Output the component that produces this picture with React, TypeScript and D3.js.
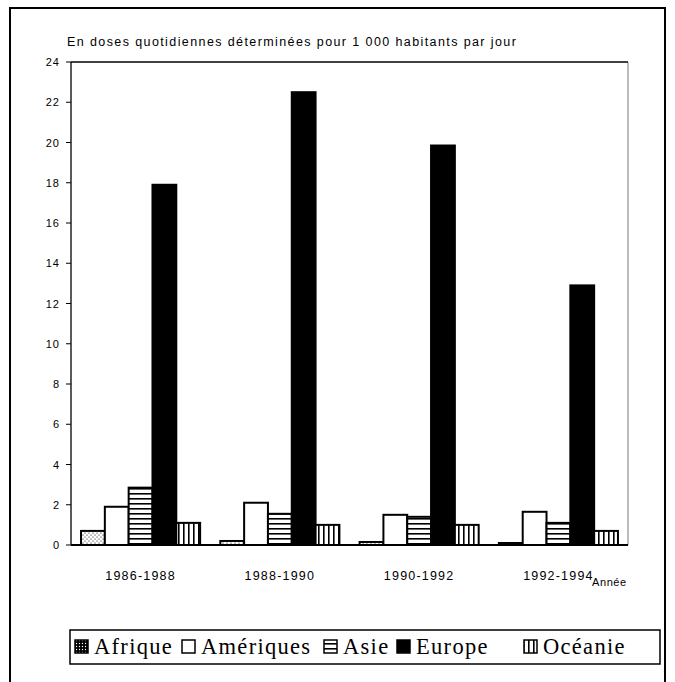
import React from "react";
import * as d3 from "d3";

const periods = ["1986-1988", "1988-1990", "1990-1992", "1992-1994"];
const regions = ["Afrique", "Amériques", "Asie", "Europe", "Océanie"];
const afrique = [0.7, 0.2, 0.15, 0.1];
const ameriques = [1.9, 2.1, 1.5, 1.65];
const asie = [2.85, 1.55, 1.4, 1.1];
const europe = [17.9, 22.5, 19.85, 12.9];
const oceanie = [1.1, 1.0, 1.0, 0.7];
const yTicks = [0, 2, 4, 6, 8, 10, 12, 14, 16, 18, 20, 22, 24];
const title = "En doses quotidiennes déterminées  pour 1 000 habitants par jour";
const xAxisName = "Année";

const series = [afrique, ameriques, asie, europe, oceanie];
const fills = ["url(#dots)", "#fff", "url(#hlines)", "#000", "url(#vlines)"];

export default function App() {
  const W = 675, H = 682;
  const left = 71, right = 628, top = 62, bottom = 545;
  const x0 = d3.scaleBand<string>().domain(periods).range([left, right]).paddingInner(0.145).paddingOuter(0.072);
  const x1 = d3.scaleBand<string>().domain(regions).range([0, x0.bandwidth()]);
  const y = d3.scaleLinear().domain([0, 24]).range([bottom, top]);
  const sans = "Liberation Sans, Arial, sans-serif";
  const serif = "Liberation Serif, Times New Roman, serif";

  const legendX = [75, 182, 324, 397, 524];

  return (
    <svg width={W} height={H} style={{ position: "absolute", left: 0, top: 0, background: "#fff" }}>
      <defs>
        <pattern id="dots" width="4" height="4" patternUnits="userSpaceOnUse">
          <rect width="4" height="4" fill="#fff" />
          <circle cx="1" cy="1" r="0.6" fill="#000" />
          <circle cx="3" cy="3" r="0.6" fill="#000" />
        </pattern>
        <pattern id="hlines" width="4" height="5" patternUnits="userSpaceOnUse">
          <rect width="4" height="5" fill="#fff" />
          <rect y="3" width="4" height="1.6" fill="#000" />
        </pattern>
        <pattern id="vlines" width="5" height="4" patternUnits="userSpaceOnUse">
          <rect width="5" height="4" fill="#fff" />
          <rect x="3" width="1.6" height="4" fill="#000" />
        </pattern>
        <pattern id="ldots" width="3" height="3" patternUnits="userSpaceOnUse">
          <rect width="3" height="3" fill="#000" />
          <circle cx="1.5" cy="1.5" r="0.7" fill="#fff" />
        </pattern>
      </defs>
      {/* outer frame */}
      <rect x={10} y={8} width={655} height={700} fill="none" stroke="#000" strokeWidth={2} />
      {/* title */}
      <text x={67} y={46} fontFamily={sans} fontSize={12.5} letterSpacing={1.4} fill="#000">{title}</text>
      {/* plot box */}
      <line x1={left} x2={right} y1={top} y2={top} stroke="#000" strokeWidth={1.5} />
      <line x1={right} x2={right} y1={top} y2={bottom} stroke="#555" strokeWidth={0.8} />
      <line x1={left} x2={left} y1={top} y2={bottom} stroke="#000" strokeWidth={1.3} />
      {yTicks.map((t) => (
        <g key={t}>
          <line x1={left - 5} x2={left} y1={y(t)} y2={y(t)} stroke="#000" strokeWidth={1} />
          <text x={left - 11} y={y(t) + 4} textAnchor="end" fontFamily={sans} fontSize={11} letterSpacing={1} fill="#000">{t}</text>
        </g>
      ))}
      {periods.map((p, i) => (
        <g key={p}>
          {series.map((s, j) => (
            <rect
              key={j}
              x={(x0(p) as number) + (x1(regions[j]) as number)}
              y={y(s[i])}
              width={x1.bandwidth()}
              height={bottom - y(s[i])}
              fill={fills[j]}
              stroke="#000"
              strokeWidth={2}
            />
          ))}
          <text x={(x0(p) as number) + x0.bandwidth() / 2} y={580} textAnchor="middle" fontFamily={sans} fontSize={12.5} letterSpacing={1.2} fill="#000">{p}</text>
        </g>
      ))}
      <line x1={left} x2={right} y1={bottom} y2={bottom} stroke="#000" strokeWidth={2} />
      <text x={592} y={586} fontFamily={sans} fontSize={11} letterSpacing={0.6} fill="#000">{xAxisName}</text>
      {/* legend */}
      <rect x={70} y={630} width={590} height={34} fill="#fff" stroke="#000" strokeWidth={1.5} />
      {regions.map((r, j) => (
        <g key={r}>
          <rect x={legendX[j]} y={640} width={13} height={13} fill={j === 0 ? "url(#ldots)" : fills[j]} stroke="#000" strokeWidth={1.5} />
          <text x={legendX[j] + 19} y={654} fontFamily={serif} fontSize={22.5} letterSpacing={1.3} fill="#000">{r}</text>
        </g>
      ))}
    </svg>
  );
}
